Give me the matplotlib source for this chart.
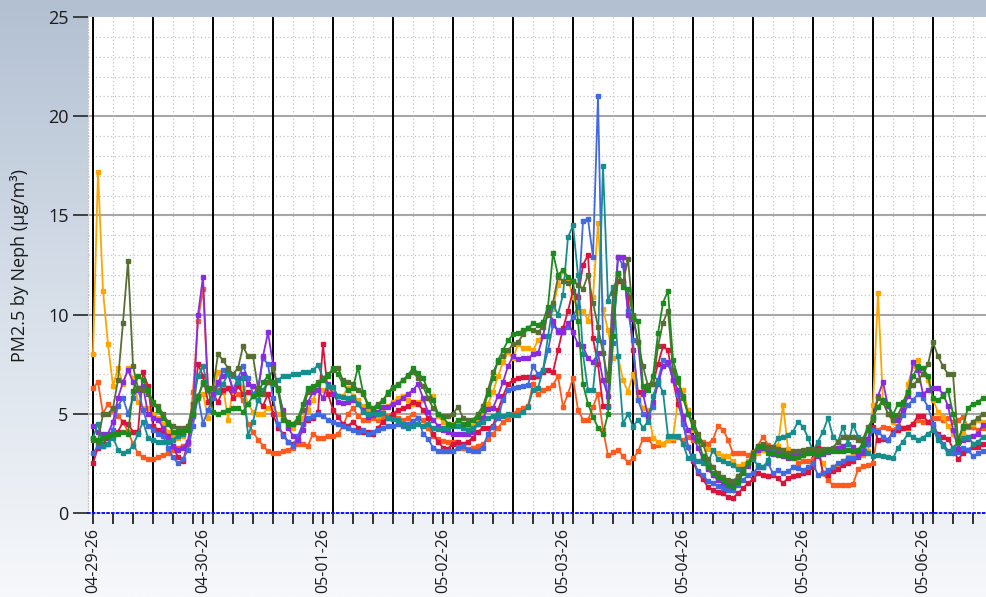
import numpy as np
import matplotlib
matplotlib.use("Agg")
import matplotlib.pyplot as plt
import matplotlib.dates as mdates
from matplotlib.colors import LinearSegmentedColormap
from matplotlib.ticker import MultipleLocator, FixedLocator, NullFormatter
from datetime import datetime, timedelta

plt.rcParams['font.family'] = ['Open Sans', 'DejaVu Sans']

# hourly readings starting 04-29-26 02:00
start = datetime(2026, 4, 29, 2, 0)

amber = [
    8.0, 17.2, 11.2, 8.5, 6.4, 7.3, 6.5, 7.3, 6.8, 5.6, 5.3, 5.3,
    5.0, 4.8, 4.5, 4.1, 3.9, 3.8, 3.9, 4.3, 5.6, 5.9, 6.0, 4.8,
    6.1, 7.1, 6.4, 4.7, 6.2, 6.8, 6.3, 5.5, 5.1, 5.0, 5.0, 5.3,
    5.3, 5.0, 4.8, 4.4, 4.3, 4.6, 4.8, 5.2, 5.7, 6.3, 6.2, 6.2,
    6.1, 5.9, 5.9, 6.3, 5.9, 5.7, 5.4, 5.2, 5.0, 4.9, 5.1, 5.4,
    5.6, 5.8, 5.9, 5.7, 5.5, 5.6, 5.7, 5.8, 5.9, 4.9, 4.6, 4.5,
    4.5, 4.5, 4.4, 4.3, 4.4, 4.6, 4.9, 5.5, 6.1, 6.9, 7.6, 8.1,
    7.8, 8.5, 8.3, 8.3, 8.2, 8.7, 8.9, 10.2, 10.3, 11.5, 12.2, 11.8,
    10.9, 10.2, 10.2, 9.7, 10.9, 14.6, 10.3, 9.2, 7.8, 7.9, 6.7, 6.1,
    7.0, 5.8, 5.3, 5.2, 3.8, 3.6, 3.5, 3.7, 3.8, 5.7, 6.2, 5.2,
    4.2, 3.8, 3.5, 3.25, 3.15, 3.0, 2.85, 2.85, 2.6, 2.35, 2.45, 2.6,
    2.8, 3.0, 3.2, 3.3, 3.2, 3.4, 5.45, 3.25, 2.9, 2.8, 2.9, 3.0,
    3.1, 3.0, 2.5, 2.1, 2.3, 2.4, 2.6, 2.8, 2.9, 3.1, 2.9, 3.1,
    5.45, 11.1, 5.6, 5.0, 4.6, 4.2, 5.3, 6.5, 7.4, 7.7, 7.0, 6.7,
    5.7, 5.1, 4.85, 4.4, 4.0, 3.7, 4.0, 4.4, 4.5, 4.7, 4.6,
]

orangered = [
    6.3, 6.6, 5.0, 5.5, 5.2, 4.9, 4.6, 4.1, 3.5, 3.0, 2.8, 2.7,
    2.7, 2.8, 2.9, 3.0, 3.2, 3.3, 3.4, 3.5, 6.1, 9.7, 11.3, 6.2,
    6.0, 6.2, 6.1, 6.3, 6.2, 6.0, 5.7, 4.5, 4.1, 3.7, 3.4, 3.1,
    3.0, 3.0, 3.1, 3.2, 3.3, 3.5, 3.5, 3.4, 4.0, 3.8, 3.8, 3.9,
    3.9, 4.0, 4.4, 5.0, 5.3, 4.9, 4.7, 4.7, 4.8, 4.7, 4.8, 4.9,
    4.9, 4.8, 4.7, 4.8, 5.0, 4.8, 4.7, 4.3, 3.9, 3.75, 3.65, 3.6,
    3.6, 3.4, 3.3, 3.25, 3.3, 3.4, 3.5, 3.75, 4.0, 4.3, 4.6, 4.75,
    5.0, 5.2, 5.3, 5.4, 6.5, 6.0, 6.2, 6.3, 6.45, 6.9, 5.35, 6.0,
    6.8, 5.2, 4.7, 4.7, 5.35, 6.0, 4.2, 2.9, 3.05, 3.2, 2.85, 2.55,
    2.75, 3.1, 3.75, 3.75, 3.4, 3.45, 3.5, 3.7, 3.7, 3.85, 3.7, 3.85,
    3.7, 3.65, 3.6, 3.5, 3.7, 4.4, 4.2, 3.7, 3.0, 3.0, 3.0, 2.9,
    3.05, 3.4, 3.85, 3.45, 3.35, 3.25, 3.2, 2.85, 3.0, 2.5, 2.6, 2.6,
    2.7, 3.4, 2.0, 1.65, 1.4, 1.4, 1.4, 1.4, 1.45, 2.2, 2.35, 2.4,
    2.5, 4.2, 4.35, 4.3, 4.2, 4.4, 4.3, 4.3, 4.5, 4.7, 4.6, 4.6,
    4.8, 4.8, 4.7, 4.8, 4.6, 4.7, 4.85, 4.35, 4.35, 4.2, 4.3,
]

crimson = [
    2.5, 3.3, 3.5, 3.8, 3.9, 4.1, 4.6, 4.5, 4.1, 4.1, 7.1, 6.4,
    4.4, 4.2, 4.1, 3.9, 3.4, 2.8, 2.6, 3.6, 4.9, 7.5, 6.9, 5.6,
    6.0, 5.6, 6.2, 6.3, 5.8, 6.4, 6.0, 6.1, 5.9, 5.7, 5.4, 6.0,
    5.0, 4.3, 4.0, 3.6, 3.5, 3.7, 4.5, 4.7, 4.8, 5.1, 8.5, 6.0,
    5.2, 4.85, 4.5, 4.4, 4.6, 4.3, 4.1, 4.1, 4.0, 4.3, 4.6, 4.8,
    5.0, 5.2, 5.3, 5.4, 5.6, 5.5, 5.2, 4.8, 4.0, 3.6, 3.3, 3.25,
    3.5, 3.6, 3.5, 3.6, 3.8, 4.1, 4.3, 4.3, 4.4, 5.2, 5.9, 6.5,
    6.7, 6.8, 6.85, 6.85, 6.85, 6.9, 7.1, 7.2, 7.1, 8.2, 9.3, 10.2,
    11.2, 10.9, 12.5, 13.0, 8.8, 7.5, 5.4, 5.4, 9.7, 11.7, 11.7, 10.9,
    8.2, 6.1, 6.1, 6.45, 6.5, 7.5, 8.4, 8.2, 6.7, 5.5, 4.7, 3.35,
    2.6, 2.0, 1.7, 1.3, 1.15, 1.05, 1.0, 0.8, 0.75, 1.0, 1.25, 1.5,
    1.7, 2.0, 1.9, 1.85, 1.9, 1.75, 1.5, 1.75, 1.85, 1.9, 2.0, 2.05,
    2.3, 3.3, 2.0, 1.9, 2.1, 2.2, 2.4, 2.5, 2.6, 2.8, 3.4, 3.5,
    4.35, 3.7, 3.75, 3.7, 4.1, 4.2, 4.3, 4.35, 4.5, 4.9, 4.9, 4.6,
    4.35, 4.0, 3.85, 3.75, 3.25, 2.7, 3.0, 3.2, 3.35, 3.35, 3.5,
]

blue = [
    3.0, 3.4, 3.4, 3.5, 4.2, 5.4, 5.8, 5.0, 5.8, 6.3, 5.2, 4.4,
    4.2, 4.0, 3.9, 3.3, 2.8, 2.5, 2.7, 3.2, 4.4, 5.9, 4.5, 5.2,
    5.8, 6.5, 7.2, 7.0, 6.2, 6.8, 7.4, 6.8, 6.0, 6.3, 7.8, 7.5,
    5.8, 4.5, 3.9, 3.6, 3.4, 3.9, 4.5, 4.8, 4.9, 5.0, 4.9, 4.7,
    4.6, 4.5, 4.4, 4.3, 4.2, 4.1, 4.2, 4.0, 4.1, 4.2, 4.3, 4.4,
    4.4, 4.5, 4.4, 4.5, 4.65, 4.8, 4.0, 3.75, 3.3, 3.15, 3.1, 3.1,
    3.1, 3.3, 3.4, 3.2, 3.1, 3.15, 3.3, 4.0, 4.35, 4.8, 5.7, 6.2,
    6.3, 6.35, 6.4, 6.45, 7.4, 7.0, 7.2, 8.2, 9.5, 9.2, 9.1, 9.4,
    9.9, 10.4, 14.7, 14.8, 12.9, 21.0, 8.6, 5.35, 8.55, 12.9, 12.5, 10.2,
    8.7, 5.7, 5.0, 4.85, 5.35, 6.7, 7.7, 7.5, 7.1, 6.0, 4.5, 3.35,
    2.7, 2.1, 1.9, 1.6, 1.5, 1.35, 1.25, 1.15, 1.15, 1.4, 1.65, 1.9,
    2.0, 2.3, 2.3, 2.5, 2.0, 2.15, 2.0, 2.1, 2.3, 2.25, 2.15, 2.3,
    2.5, 1.9, 2.0, 2.15, 2.3, 2.5, 2.6, 2.75, 2.75, 2.85, 3.2, 3.5,
    4.2, 4.1, 3.85, 3.7, 4.0, 4.35, 4.95, 5.45, 5.7, 6.0, 5.8, 5.35,
    4.5, 3.9, 3.5, 3.15, 3.0, 3.05, 3.3, 3.2, 2.85, 3.0, 3.1,
]

purple = [
    4.4, 4.1, 4.0, 4.0, 4.6, 5.8, 6.6, 7.2, 6.6, 6.2, 6.4, 5.0,
    4.8, 4.7, 4.3, 3.8, 3.4, 3.2, 3.3, 3.6, 5.0, 10.0, 11.9, 6.2,
    6.0, 6.6, 6.9, 7.1, 6.2, 6.6, 7.0, 6.5, 6.4, 6.1, 7.9, 9.1,
    7.5, 6.2, 5.2, 4.3, 3.9, 3.7, 4.2, 5.6, 6.1, 6.2, 5.8, 6.5,
    6.0, 5.6, 5.55, 5.6, 5.7, 5.5, 5.2, 4.85, 4.95, 5.1, 5.35, 5.35,
    5.5, 5.6, 5.8, 6.0, 6.2, 6.5, 5.8, 5.1, 4.7, 4.4, 4.2, 4.1,
    4.0, 4.0, 4.0, 4.0, 4.1, 4.5, 4.8, 5.26, 5.3, 5.9, 6.6, 7.4,
    7.9, 7.75, 7.8, 7.8, 8.0, 8.05, 8.9, 10.2, 9.7, 9.1, 9.1, 9.6,
    9.1, 8.5, 8.4, 7.8, 7.6, 8.05, 6.7, 5.9, 10.0, 12.9, 12.9, 10.0,
    9.8, 8.6, 6.0, 4.9, 5.6, 6.5, 7.4, 7.6, 6.7, 6.2, 4.9, 4.2,
    3.85, 3.3, 2.7, 2.2, 1.9, 1.65, 1.5, 1.4, 1.5, 1.8, 2.2, 2.35,
    2.85, 3.2, 3.3, 3.2, 2.95, 3.05, 2.85, 2.75, 2.85, 2.85, 2.95, 3.05,
    3.0, 2.85, 2.95, 3.05, 3.2, 3.3, 3.4, 3.5, 3.35, 2.9, 3.0, 3.75,
    4.85, 5.9, 6.6, 5.4, 4.8, 4.7, 5.2, 5.9, 7.6, 7.2, 6.0, 6.2,
    6.3, 6.3, 6.0, 5.4, 4.2, 3.25, 3.7, 3.75, 3.9, 4.0, 4.45,
]

teal = [
    3.8, 4.5, 3.4, 3.5, 3.8, 3.2, 3.0, 3.1, 3.4, 4.0, 4.6, 3.8,
    3.7, 3.6, 3.6, 3.6, 3.7, 3.9, 4.0, 4.3, 5.5, 6.9, 7.4, 6.3,
    6.3, 6.1, 6.5, 7.0, 6.9, 6.6, 6.8, 3.9, 4.6, 5.7, 6.2, 6.6,
    6.5, 6.7, 6.9, 6.9, 7.0, 7.0, 7.1, 7.1, 7.2, 7.45, 6.8, 6.4,
    6.35, 5.9, 5.85, 5.8, 5.85, 5.5, 5.1, 5.0, 5.05, 5.0, 5.05, 4.8,
    4.75, 4.7, 4.5, 4.3, 4.4, 4.5, 4.4, 4.5, 4.3, 4.25, 4.3, 4.3,
    4.4, 4.4, 4.3, 4.2, 4.3, 4.5, 4.6, 4.8, 4.9, 5.0, 4.9, 5.0,
    4.95, 4.95, 5.1, 5.35, 6.2, 6.3, 7.2, 8.9, 10.5, 10.0, 11.0, 13.9,
    14.5, 12.0, 8.0, 6.2, 6.2, 8.7, 17.5, 10.7, 11.4, 7.9, 4.5, 5.0,
    4.35, 4.7, 4.3, 4.6, 5.9, 6.6, 6.1, 3.9, 3.9, 3.9, 3.5, 2.75,
    2.85, 2.6, 2.5, 2.5, 3.2, 2.7, 2.6, 2.5, 2.4, 2.2, 2.1, 2.5,
    2.7, 2.4, 2.3, 2.65, 3.3, 3.8, 3.85, 3.95, 4.1, 4.6, 4.35, 3.8,
    3.1, 3.6, 4.1, 4.8, 3.85, 3.6, 4.35, 3.5, 4.45, 3.85, 3.5, 3.0,
    2.85, 2.9, 2.85, 2.8, 2.75, 3.3, 3.6, 4.0, 3.85, 3.7, 3.8, 4.0,
    4.2, 3.7, 3.4, 3.0, 3.3, 3.55, 3.8, 3.85, 3.5, 3.6, 3.85,
]

olive = [
    3.7, 3.6, 5.0, 5.0, 5.3, 6.7, 9.6, 12.7, 7.4, 6.3, 6.2, 6.0,
    5.5, 5.4, 5.0, 4.6, 4.4, 4.3, 4.3, 4.4, 5.5, 5.9, 6.5, 6.2,
    6.3, 8.0, 7.7, 7.3, 7.0, 7.3, 8.4, 7.9, 7.9, 6.3, 6.0, 6.6,
    7.3, 6.3, 5.0, 4.6, 4.5, 4.6, 5.2, 6.1, 6.3, 6.6, 6.8, 7.0,
    7.2, 7.3, 6.7, 6.6, 6.5, 6.2, 6.0, 5.4, 5.3, 5.5, 5.7, 6.0,
    6.3, 6.5, 6.7, 6.9, 7.1, 6.8, 6.4, 5.8, 5.3, 5.0, 4.9, 4.9,
    5.0, 5.35, 4.8, 4.7, 4.7, 5.0, 5.4, 6.2, 7.1, 7.6, 7.9, 8.2,
    8.5, 8.6, 9.0, 9.3, 9.2, 9.1, 9.4, 10.0, 10.6, 11.9, 11.7, 11.6,
    11.7, 11.5, 11.3, 12.0, 10.6, 9.4, 8.05, 6.7, 11.1, 12.1, 11.6, 12.8,
    10.0, 8.6, 7.4, 6.4, 6.5, 8.4, 9.6, 10.2, 7.2, 6.6, 5.9, 5.0,
    4.6, 4.0, 3.5, 2.7, 2.3, 2.0, 1.8, 1.65, 1.6, 1.85, 2.15, 2.5,
    2.85, 3.4, 3.5, 3.35, 3.35, 3.25, 3.2, 3.0, 3.1, 3.1, 3.2, 3.25,
    3.25, 3.2, 3.25, 3.25, 3.3, 3.6, 3.85, 3.85, 3.85, 3.7, 3.75, 4.35,
    4.7, 5.8, 5.6, 5.0, 4.7, 4.95, 5.5, 6.1, 6.45, 6.7, 7.0, 7.5,
    8.6, 7.9, 7.4, 7.0, 7.0, 3.7, 4.3, 4.4, 4.6, 4.8, 5.0,
]

green = [
    3.8, 3.7, 3.8, 3.9, 4.0, 4.0, 4.1, 4.0, 6.15, 6.9, 6.7, 6.2,
    5.6, 5.2, 4.8, 4.5, 4.1, 4.1, 4.1, 4.2, 5.0, 5.8, 6.6, 6.3,
    5.1, 5.0, 5.1, 5.2, 5.3, 5.3, 5.1, 5.5, 5.9, 6.0, 6.6, 6.9,
    6.6, 6.2, 4.7, 4.5, 4.5, 4.8, 5.5, 6.3, 6.4, 6.5, 6.7, 6.9,
    7.3, 7.0, 6.5, 6.2, 6.3, 7.35, 6.1, 5.5, 5.26, 5.4, 5.65, 6.1,
    6.35, 6.45, 6.7, 6.95, 7.3, 7.05, 6.8, 6.2, 5.7, 5.0, 4.85, 4.5,
    4.45, 4.7, 4.5, 4.5, 4.7, 4.85, 5.2, 6.0, 6.8, 7.7, 8.2, 8.7,
    9.0, 9.05, 9.2, 9.3, 9.56, 9.5, 9.65, 10.4, 13.1, 12.0, 12.25, 11.9,
    11.7, 9.7, 6.5, 5.5, 4.86, 4.3, 4.0, 5.0, 8.9, 12.1, 11.4, 11.3,
    9.9, 9.7, 6.4, 6.2, 6.9, 9.05, 10.6, 11.2, 7.7, 6.8, 5.8, 5.0,
    4.35, 3.7, 2.85, 2.3, 2.0, 1.8, 1.65, 1.4, 1.3, 1.55, 2.0, 2.5,
    3.0, 3.35, 3.35, 3.0, 3.0, 2.9, 2.9, 2.8, 2.75, 2.8, 2.9, 3.0,
    3.0, 2.9, 3.0, 3.1, 3.1, 3.1, 3.1, 3.2, 3.1, 3.2, 3.5, 4.2,
    4.85, 5.35, 5.7, 5.5, 4.95, 5.5, 5.6, 6.1, 6.9, 7.4, 7.3, 6.9,
    5.8, 5.7, 5.9, 6.2, 5.0, 3.6, 4.4, 5.3, 5.5, 5.6, 5.8,
]

series = [orangered, amber, crimson, blue, purple, teal, olive, green]
colors = ["#FF5A1E", "#FFA500", "#DC143C", "#4169E1", "#8A2BE2", "#168E8E", "#586F33", "#1E8B1E"]


# ----- figure -----
fig = plt.figure(figsize=(9.86, 5.97), dpi=100)

bg = fig.add_axes([0, 0, 1, 1], zorder=-10)
cmap = LinearSegmentedColormap.from_list("bg", ["#B2C0D2", "#D7DFE9", "#F6F8FB"])
bg.imshow(np.linspace(0, 1, 256).reshape(-1, 1), aspect="auto", cmap=cmap,
          extent=[0, 1, 0, 1], origin="upper")
bg.axis("off")

W, H = 986, 597
ax = fig.add_axes([88 / W, 1 - 513 / H, 1 - 88 / W, (513 - 17) / H])
ax.set_facecolor("white")

x_lo = start - timedelta(hours=1)
x_hi = start + timedelta(hours=178.6)
ax.set_xlim(x_lo, x_hi)
ax.set_ylim(0, 25)

# grid: dotted minor, grey major, black every 12 h
for v in range(1, 25):
    if v % 5:
        ax.axhline(v, color="#c4c4c4", lw=0.9, ls=(0, (1, 2)), zorder=1)
    else:
        ax.axhline(v, color="#a6a6a6", lw=1.5, zorder=1)

t = start
while t < x_hi:
    if t.hour in (2, 14):
        ax.axvline(t, color="black", lw=1.4, zorder=2)
    else:
        ax.axvline(t, color="#c4c4c4", lw=0.9, ls=(0, (1, 2)), zorder=1)
    t += timedelta(hours=4)

for vals, c in zip(series, colors):
    times = [start + timedelta(hours=k) for k in range(len(vals))]
    ax.plot(times, vals, color=c, lw=1.3, marker="s", ms=3, zorder=3)

# ----- axes -----
for side in ["top", "right"]:
    ax.spines[side].set_visible(False)
ax.spines["left"].set_color("#c4c4c4")
ax.spines["left"].set_linestyle(":")
ax.spines["bottom"].set_color("#0000FF")
ax.spines["bottom"].set_linestyle(":")
ax.spines["bottom"].set_linewidth(1.3)
ax.spines["bottom"].set_zorder(4)

day_ticks = [start] + [datetime(2026, 4, 30) + timedelta(days=d) for d in range(7)]
ax.xaxis.set_major_locator(FixedLocator(mdates.date2num(day_ticks)))
ax.xaxis.set_major_formatter(mdates.DateFormatter("%m-%d-%y"))
ax.xaxis.set_minor_locator(mdates.HourLocator(byhour=[2, 6, 10, 14, 18, 22]))
ax.xaxis.set_minor_formatter(NullFormatter())
ax.tick_params(axis="x", which="both", direction="out", length=8, width=1.3,
               color="#222222", labelrotation=90, labelsize=11.5, pad=3,
               labelcolor="#1b1b1b")

ax.yaxis.set_major_locator(MultipleLocator(5))
ax.tick_params(axis="y", which="major", direction="out", length=11, width=1.3,
               color="#333333", labelsize=13, pad=3, labelcolor="#1b1b1b")
ax.tick_params(axis="y", which="minor", length=0)

fig.text(20 / W, 1 - 265 / H, "PM2.5 by Neph (µg/m³)", rotation=90,
         ha="center", va="center", fontsize=13, color="#1b1b1b")

plt.savefig("out.png", dpi=100)
